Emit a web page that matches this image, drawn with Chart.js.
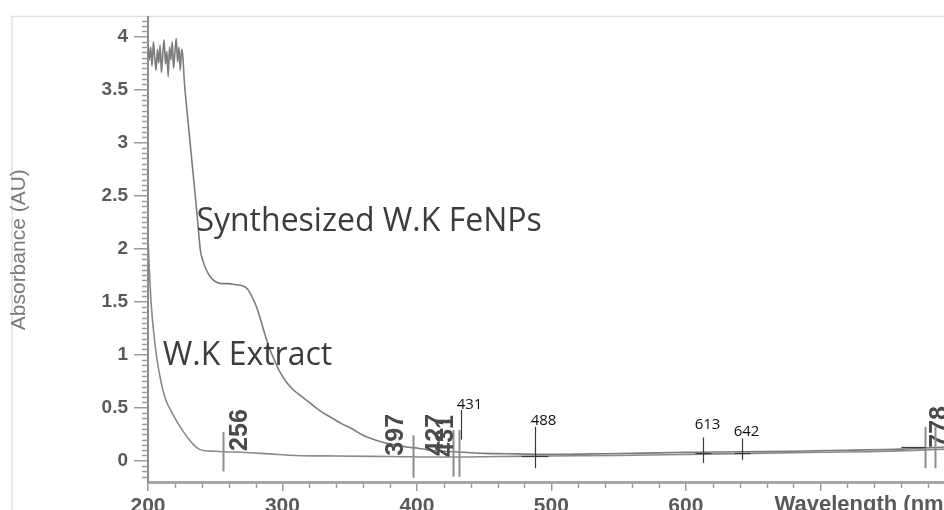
<!DOCTYPE html>
<html>
<head>
<meta charset="utf-8">
<title>UV-Vis absorbance</title>
<script src="https://cdn.jsdelivr.net/npm/chart.js@4.4.1/dist/chart.umd.min.js"></script>
<style>
  html, body { margin: 0; padding: 0; background: #fff; overflow: hidden; }
  #wrap { width: 944px; height: 510px; position: relative; }
</style>
</head>
<body>
<div id="wrap"><canvas id="uv" width="944" height="510"></canvas></div>
<script>
// Synthesized W.K FeNPs spectrum (wavelength in nm, absorbance in AU)
const fenpsNm = [200,201,202,203,204,205,206,207,208,209,210,211,212,213,214,215,216,217,218,219,220,221,222,223,224,225,226,227,
  229,231,233,235,237,239,241,243,246,250,255,260,265,270,274,278,281,284,287,290,294,298,303,308,314,320,328,336,344,352,360,
  368,376,384,392,400,410,420,435,450,475,500,530,560,600,640,680,720,760,792];
const fenpsAbs = [3.93,3.78,3.90,3.72,3.95,3.80,3.68,3.88,3.75,3.92,3.66,3.84,3.97,3.74,3.86,3.62,3.90,3.78,3.95,3.70,3.85,3.98,3.76,3.90,3.68,3.88,3.80,3.58,
  3.30,3.04,2.78,2.52,2.25,1.98,1.88,1.81,1.74,1.69,1.67,1.67,1.66,1.65,1.62,1.53,1.44,1.32,1.19,1.07,0.95,0.84,0.74,0.67,0.61,0.55,0.47,0.41,0.35,0.30,0.24,
  0.20,0.17,0.15,0.13,0.12,0.10,0.09,0.08,0.07,0.065,0.06,0.065,0.07,0.08,0.085,0.09,0.10,0.11,0.13];

// W.K extract spectrum
const extractNm = [200,201,202,203,204,205,206,207,209,211,214,218,222,226,230,234,238,242,250,256,270,290,310,340,380,420,460,500,550,600,650,700,750,792];
const extractAbs = [2.10,1.80,1.55,1.38,1.24,1.12,1.02,0.93,0.79,0.67,0.55,0.45,0.36,0.28,0.21,0.15,0.11,0.095,0.09,0.085,0.08,0.065,0.05,0.045,0.04,0.035,0.04,0.045,0.05,0.06,0.07,0.08,0.09,0.11];

// Axis ticks (700 carries a mark but no number; the axis name sits there)
const xTicks = [200, 300, 400, 500, 600, 700];
const xTickText = ['200', '300', '400', '500', '600', ''];
const yTicks = [0, 0.5, 1, 1.5, 2, 2.5, 3, 3.5, 4];

// Peak marks: wavelength and printed value
const peakNm   = [256, 397, 427, 431, 488, 613, 642, 778, 785];
const peakText = ['256', '397', '427', '431', '488', '613', '642', '778', ''];

// How each peak mark is drawn (same order as peakNm)
const peakLook = [
  { top: 0.27, bottom: -0.10, kind: 'inst', dx: 17, labelAt: 0.29 },
  { top: 0.24, bottom: -0.16, kind: 'inst', dx: -17, labelAt: 0.245 },
  { top: 0.29, bottom: -0.15, kind: 'inst', dx: -17, labelAt: 0.245 },
  { top: 0.29, bottom: -0.15, kind: 'both', dx: -13, labelAt: 0.235, hTop: 0.48, hBottom: 0.20, hdx: 8, hAt: 0.53 },
  { top: 0.32, bottom: -0.07, kind: 'hand', hdx: 8, hAt: 0.38, cross: 0.047, crossL: 14, crossR: 13 },
  { top: 0.22, bottom: -0.02, kind: 'hand', hdx: 4, hAt: 0.34, cross: 0.075, crossL: 8, crossR: 8 },
  { top: 0.21, bottom: 0.01, kind: 'hand', hdx: 4, hAt: 0.27, cross: 0.075, crossL: 8, crossR: 8 },
  { top: 0.32, bottom: -0.07, kind: 'inst', dx: 15, labelAt: 0.32, cross: 0.13, crossL: 24, crossR: 0 },
  { top: 0.32, bottom: -0.07, kind: 'inst' }
];

const pairs = (xs, ys) => xs.map((v, i) => ({ x: v, y: ys[i] }));

const GREY_TEXT = '#5a5a5a';

const annotations = {
  id: 'annotations',
  beforeDraw(chart) {
    const { ctx } = chart;
    const area = chart.chartArea;
    ctx.save();
    // faint outer frame
    ctx.strokeStyle = '#e2e2e2';
    ctx.lineWidth = 1.5;
    ctx.beginPath();
    ctx.moveTo(10, area.top - 1);
    ctx.lineTo(chart.width, area.top - 1);
    ctx.moveTo(12, area.top - 1);
    ctx.lineTo(12, chart.height);
    ctx.stroke();
    ctx.restore();
  },
  afterDatasetsDraw(chart) {
    const { ctx } = chart;
    const x = chart.scales.x, y = chart.scales.y;
    const area = chart.chartArea;
    ctx.save();

    // minor ticks on the y axis
    ctx.strokeStyle = '#9a9a9a';
    ctx.lineWidth = 1.5;
    for (let v = -0.15; v < 4.18; v += 0.05) {
      const r = Math.round(v * 100) / 100;
      if (Math.abs(r * 2 - Math.round(r * 2)) < 1e-6) continue;
      const py = Math.round(y.getPixelForValue(r)) + 0.5;
      ctx.beginPath();
      ctx.moveTo(area.left - 6, py);
      ctx.lineTo(area.left, py);
      ctx.stroke();
    }
    // minor ticks on the x axis
    for (let v = 220; v < 800; v += 20) {
      if (v % 100 === 0) continue;
      const px = Math.round(x.getPixelForValue(v)) + 0.5;
      ctx.beginPath();
      ctx.moveTo(px, area.bottom + 2);
      ctx.lineTo(px, area.bottom + 6);
      ctx.stroke();
    }

    // peak marks
    peakNm.forEach((nm, i) => {
      const look = peakLook[i];
      const px = Math.round(x.getPixelForValue(nm)) + 0.5;
      if (look.kind === 'inst' || look.kind === 'both') {
        ctx.strokeStyle = '#8c8c8c';
        ctx.lineWidth = 2;
        ctx.beginPath();
        ctx.moveTo(px, y.getPixelForValue(look.top));
        ctx.lineTo(px, y.getPixelForValue(look.bottom));
        ctx.stroke();
        if (peakText[i] && look.dx !== undefined) {
          ctx.save();
          ctx.translate(px + look.dx, y.getPixelForValue(look.labelAt));
          ctx.rotate(-Math.PI / 2);
          ctx.fillStyle = '#4a4a4a';
          ctx.font = 'bold 25px "Liberation Sans", Arial, sans-serif';
          ctx.textAlign = 'center';
          ctx.textBaseline = 'middle';
          ctx.fillText(peakText[i], 0, 0);
          ctx.restore();
        }
      }
      if (look.kind === 'hand' || look.kind === 'both') {
        const top = look.kind === 'both' ? look.hTop : look.top;
        const bottom = look.kind === 'both' ? look.hBottom : look.bottom;
        const hx = look.kind === 'both' ? px + 2 : px;
        ctx.strokeStyle = '#3a3a3a';
        ctx.lineWidth = 1.2;
        ctx.beginPath();
        ctx.moveTo(hx, y.getPixelForValue(top));
        ctx.lineTo(hx, y.getPixelForValue(bottom));
        ctx.stroke();
        ctx.fillStyle = '#111';
        ctx.font = '15px "Open Sans", "Noto Sans", sans-serif';
        ctx.textAlign = 'center';
        ctx.textBaseline = 'middle';
        ctx.fillText(peakText[i], hx + look.hdx, y.getPixelForValue(look.hAt));
      }
      if (look.cross !== undefined) {
        const cy = Math.round(y.getPixelForValue(look.cross)) + 0.5;
        ctx.strokeStyle = '#3a3a3a';
        ctx.lineWidth = 1.2;
        ctx.beginPath();
        ctx.moveTo(px - look.crossL, cy);
        ctx.lineTo(px + look.crossR, cy);
        ctx.stroke();
      }
    });

    // curve names
    ctx.fillStyle = '#3c3c3c';
    ctx.textAlign = 'left';
    ctx.textBaseline = 'alphabetic';
    ctx.font = '500 32px "Open Sans", "Noto Sans", sans-serif';
    ctx.fillText('Synthesized W.K FeNPs', x.getPixelForValue(236), y.getPixelForValue(2.17));
    ctx.fillText('W.K Extract', x.getPixelForValue(211), y.getPixelForValue(0.9));

    // x axis name, printed in the tick row
    ctx.fillStyle = GREY_TEXT;
    ctx.font = 'bold 22px "Liberation Sans", Arial, sans-serif';
    ctx.textBaseline = 'top';
    ctx.fillText('Wavelength (nm)', x.getPixelForValue(466 + 200), area.bottom + 12);
    ctx.restore();
  }
};

new Chart(document.getElementById('uv'), {
  type: 'scatter',
  data: {
    datasets: [
      {
        label: 'Synthesized W.K FeNPs',
        data: pairs(fenpsNm, fenpsAbs),
        showLine: true,
        borderColor: '#7c7c7c',
        borderWidth: 1.6,
        pointRadius: 0,
        cubicInterpolationMode: 'monotone'
      },
      {
        label: 'W.K Extract',
        data: pairs(extractNm, extractAbs),
        showLine: true,
        borderColor: '#8a8a8a',
        borderWidth: 1.6,
        pointRadius: 0,
        cubicInterpolationMode: 'monotone'
      }
    ]
  },
  options: {
    responsive: false,
    animation: false,
    devicePixelRatio: 1,
    layout: { padding: { top: 15, right: 0, left: 0, bottom: 0 } },
    plugins: { legend: { display: false }, tooltip: { enabled: false } },
    scales: {
      x: {
        type: 'linear',
        min: 200,
        max: 792,
        afterBuildTicks: s => { s.ticks = xTicks.map(v => ({ value: v })); },
        afterFit: s => { s.height = 28; },
        grid: { drawOnChartArea: false, tickLength: 9, color: '#9a9a9a', lineWidth: 1.5 },
        border: { color: '#a8a8a8', width: 3 },
        ticks: {
          color: GREY_TEXT,
          padding: 3,
          maxRotation: 0,
          callback: (v) => xTickText[xTicks.indexOf(v)] ?? '',
          font: { family: '"Liberation Sans", Arial, sans-serif', size: 21, weight: 'bold' }
        }
      },
      y: {
        min: -0.2,
        max: 4.18,
        afterBuildTicks: s => { s.ticks = yTicks.map(v => ({ value: v })); },
        afterFit: s => { s.width = 148; },
        grid: { drawOnChartArea: false, tickLength: 14, color: '#9a9a9a', lineWidth: 1.5 },
        border: { color: '#8a8a8a', width: 2 },
        ticks: {
          color: GREY_TEXT,
          padding: 6,
          callback: v => String(v),
          font: { family: '"Liberation Sans", Arial, sans-serif', size: 19, weight: 'bold' }
        },
        title: {
          display: true,
          text: 'Absorbance (AU)',
          color: '#7a7a7a',
          padding: { top: 7, bottom: 0 },
          font: { family: '"Liberation Sans", Arial, sans-serif', size: 21 }
        }
      }
    }
  },
  plugins: [annotations]
});
</script>
</body>
</html>
